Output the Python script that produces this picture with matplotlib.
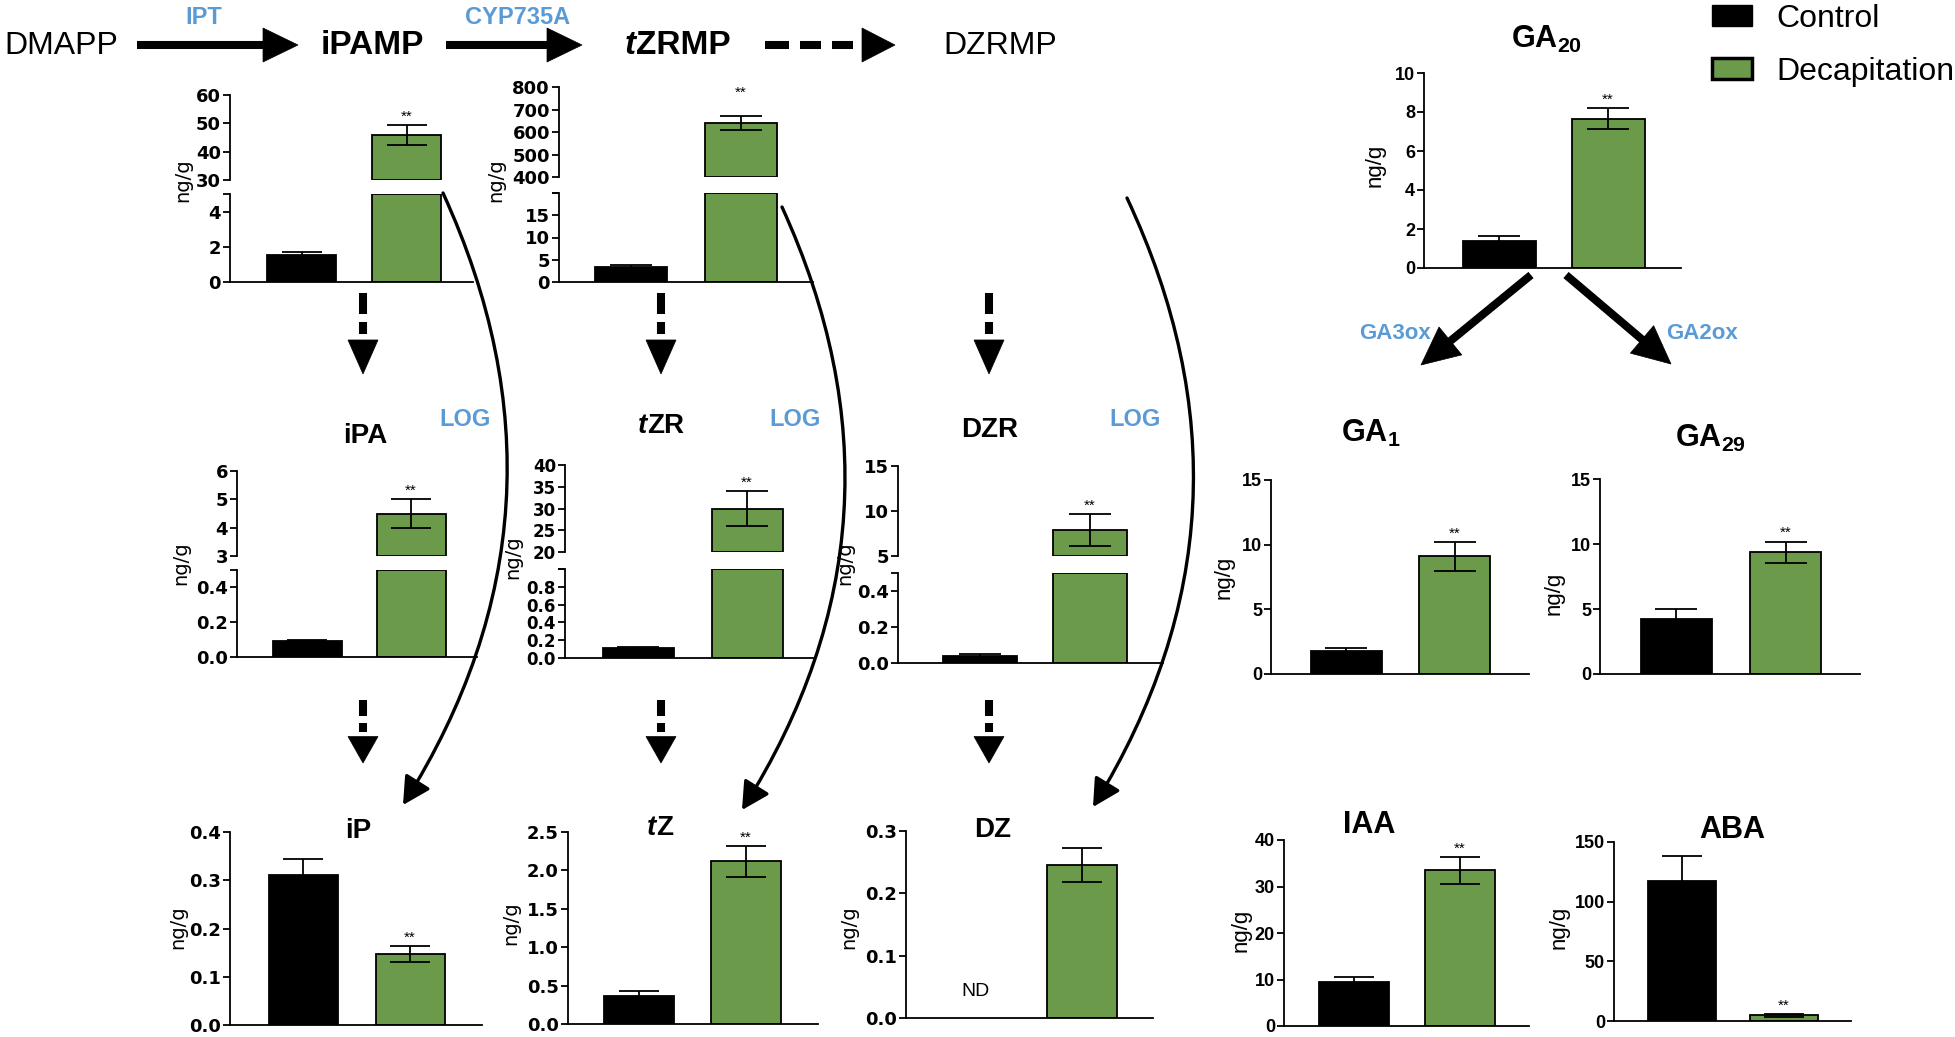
import matplotlib
matplotlib.use('Agg')
import matplotlib.pyplot as plt
from matplotlib import font_manager
from matplotlib.patches import Patch, Polygon, FancyArrowPatch

W, H = 1955, 1037
GREEN = '#6a9a4a'
BLUE = '#5b9bd5'

installed = {f.name for f in font_manager.fontManager.ttflist}
NARROW = 'Liberation Sans Narrow' if 'Liberation Sans Narrow' in installed else 'Liberation Sans'

plt.rcParams['font.family'] = ['Liberation Sans', 'DejaVu Sans']
plt.rcParams['mathtext.fontset'] = 'custom'
plt.rcParams['mathtext.rm'] = 'Liberation Sans'
plt.rcParams['mathtext.bf'] = 'Liberation Sans:bold'

# ---- data, ng/g ----
hormones = ['iPAMP', 'tZRMP', 'iPA', 'tZR', 'DZR', 'iP', 'tZ', 'DZ',
            'GA20', 'GA1', 'GA29', 'IAA', 'ABA']
control = [1.55, 3.45, 0.09, 0.11, 0.04, 0.31, 0.365, 0.0,
           1.38, 1.8, 4.25, 9.4, 117.5]
control_err = [0.16, 0.35, 0.01, 0.01, 0.01, 0.035, 0.065, 0.0,
               0.26, 0.23, 0.77, 1.1, 20.5]
decap = [46.0, 640, 4.5, 30.0, 7.9, 0.147, 2.12, 0.245,
         7.65, 9.1, 9.35, 33.5, 4.8]
decap_err = [3.5, 29, 0.52, 4.0, 1.75, 0.017, 0.2, 0.027,
             0.53, 1.1, 0.83, 2.9, 1.2]
significant = [True, True, True, True, True, True, True, False,
               True, True, True, True, True]
not_detected = ['DZ']   # control not detected

# y scales: lower range, lower ticks, upper range, upper ticks (broken axes)
scales = {
    'iPAMP': ((0, 5), [0, 2, 4], (30, 60), [30, 40, 50, 60]),
    'tZRMP': ((0, 20), [0, 5, 10, 15, 20], (400, 800), [400, 500, 600, 700, 800]),
    'iPA': ((0, 0.5), [0.0, 0.2, 0.4], (3, 6), [3, 4, 5, 6]),
    'tZR': ((0, 1.0), [0.0, 0.2, 0.4, 0.6, 0.8, 1.0], (20, 40), [20, 25, 30, 35, 40]),
    'DZR': ((0, 0.5), [0.0, 0.2, 0.4], (5, 15), [5, 10, 15]),
    'iP': ((0, 0.4), [0.0, 0.1, 0.2, 0.3, 0.4], None, None),
    'tZ': ((0, 2.5), [0.0, 0.5, 1.0, 1.5, 2.0, 2.5], None, None),
    'DZ': ((0, 0.3), [0.0, 0.1, 0.2, 0.3], None, None),
    'GA20': ((0, 10), [0, 2, 4, 6, 8, 10], None, None),
    'GA1': ((0, 15), [0, 5, 10, 15], None, None),
    'GA29': ((0, 15), [0, 5, 10, 15], None, None),
    'IAA': ((0, 40), [0, 10, 20, 30, 40], None, None),
    'ABA': ((0, 150), [0, 50, 100, 150], None, None),
}
decimal_ticks = ['iPA', 'tZR', 'DZR', 'iP', 'tZ', 'DZ']
ga_style = ['GA20', 'GA1', 'GA29', 'IAA', 'ABA']

# layout in pixels: spine x, axis end x, control centre, decap centre, bar width,
# zero y, top of lower part, bottom of upper part, top of upper part
layout = {
    'iPAMP': (230, 473, 301.5, 406.5, 69, 282, 194, 180, 95),
    'tZRMP': (559, 813, 631, 741, 72, 282, 193, 177, 87),
    'iPA': (237, 477, 307, 411, 69, 657, 570, 556, 471),
    'tZR': (565, 815, 638, 747, 71, 658, 569, 552, 465),
    'DZR': (898, 1163, 979.5, 1090, 74, 663, 573, 556, 466),
    'iP': (230, 482, 303, 410, 69, 1025, 832),
    'tZ': (568, 818, 639, 746, 70, 1024, 832),
    'DZ': (906, 1153, 976, 1082, 70, 1018, 831),
    'GA20': (1424, 1681, 1499, 1608, 73, 268, 73),
    'GA1': (1271, 1529, 1346, 1454.5, 71, 674, 480),
    'GA29': (1600, 1860, 1676, 1785.5, 71, 674, 479),
    'IAA': (1284, 1529, 1354, 1459.5, 70, 1026, 840),
    'ABA': (1614, 1851, 1682, 1784, 68, 1021, 842),
}
star_offset = {'tZRMP': 12}

fig = plt.figure(figsize=(W / 100, H / 100), dpi=100)


def px_axes(x0, x1, ytop, ybot):
    return fig.add_axes([x0 / W, 1 - ybot / H, (x1 - x0) / W, (ybot - ytop) / H])


def draw_bars(ax, h, lo, hi):
    i = hormones.index(h)
    sx, ex, c0, c1, bw = layout[h][:5]
    s = c1 - c0
    ax.set_xlim((sx - c0) / s, (ex - c0) / s)
    ax.set_ylim(lo, hi)
    vals = [control[i], decap[i]]
    errs = [control_err[i], decap_err[i]]
    for k, col in enumerate(['black', GREEN]):
        v = vals[k]
        if v <= lo or (k == 0 and h in not_detected):
            continue
        ax.bar(k, min(v, hi) - lo, bottom=lo, width=bw / s, color=col,
               edgecolor='black', linewidth=1.3, zorder=2)
        if v <= hi:
            ax.errorbar(k, v, yerr=errs[k], fmt='none', ecolor='black',
                        elinewidth=1.3, capthick=1.3, capsize=0.29 * bw * 0.72, zorder=3)
            if k == 1 and significant[i]:
                ax.annotate('**', (k, v + errs[k]), xytext=(0, star_offset.get(h, 1)),
                            textcoords='offset points', ha='center', va='bottom',
                            fontsize=11)


def style_axis(ax, h, ticks, labels, bottom=True):
    for side in ['top', 'right']:
        ax.spines[side].set_visible(False)
    ax.spines['bottom'].set_visible(bottom)
    for sp in ax.spines.values():
        sp.set_linewidth(1.3)
    ax.patch.set_alpha(0)
    ax.tick_params(axis='x', bottom=False, labelbottom=False)
    ax.tick_params(axis='y', direction='out', length=5, width=1.3, pad=1.5)
    if h in ga_style:
        ax.set_yticks(ticks, labels, fontsize=13, fontweight='bold', family=NARROW)
    else:
        size = 12 if h == 'tZR' else 13
        ax.set_yticks(ticks, labels, fontsize=size, fontweight='bold', family='DejaVu Sans')


for h in hormones:
    lay = layout[h]
    lo_rng, lo_ticks, up_rng, up_ticks = scales[h]
    fmt = '{:.1f}' if h in decimal_ticks else '{:g}'
    ax = px_axes(lay[0], lay[1], lay[6], lay[5])
    draw_bars(ax, h, *lo_rng)
    labels = [fmt.format(t) for t in lo_ticks]
    if up_rng is not None:
        style_axis(ax, h, lo_ticks + [lo_rng[1]], labels + [''])
        ax2 = px_axes(lay[0], lay[1], lay[8], lay[7])
        draw_bars(ax2, h, *up_rng)
        style_axis(ax2, h, up_ticks, ['{:g}'.format(t) for t in up_ticks], bottom=False)
    else:
        style_axis(ax, h, lo_ticks, labels)

# ---- overlay in pixel coordinates for the pathway diagram ----
ov = fig.add_axes([0, 0, 1, 1], zorder=10)
ov.set_xlim(0, W)
ov.set_ylim(H, 0)
ov.axis('off')
ov.patch.set_alpha(0)

SHAFT = 5.8  # points


def seg(x0, y0, x1, y1, lw=SHAFT):
    ov.plot([x0, x1], [y0, y1], color='black', lw=lw, solid_capstyle='butt')


def head(tx, ty, ux, uy, length, half):
    bx, by = tx - ux * length, ty - uy * length
    px, py = -uy, ux
    ov.add_patch(Polygon([(tx, ty), (bx + px * half, by + py * half),
                          (bx - px * half, by - py * half)], closed=True,
                         facecolor='black', edgecolor='black', lw=0.5))


def arrow(x0, y0, x1, y1, length=35, half=17):
    d = ((x1 - x0) ** 2 + (y1 - y0) ** 2) ** 0.5
    ux, uy = (x1 - x0) / d, (y1 - y0) / d
    seg(x0, y0, x1 - ux * (length - 2), y1 - uy * (length - 2))
    head(x1, y1, ux, uy, length, half)


def dashed_down(x, y0, tip):
    L = tip - y0
    seg(x, y0, x, y0 + 0.26 * L)
    seg(x, y0 + 0.36 * L, x, y0 + 0.51 * L)
    head(x, tip, 0, 1, 0.42 * L, 15)


# top row
ov.text(61, 54, 'DMAPP', fontsize=23, ha='center', va='baseline')
ov.text(372, 54, 'iPAMP', fontsize=24, fontweight='bold', ha='center', va='baseline')
t = ov.text(636, 54, 't', fontsize=24, fontweight='bold', style='italic', ha='right', va='baseline')
ov.annotate('ZRMP', xy=(1, 0), xycoords=t, fontsize=24, fontweight='bold', ha='left', va='bottom')
ov.text(1000, 54, 'DZRMP', fontsize=23, ha='center', va='baseline')
ov.text(204, 24, 'IPT', fontsize=17, fontweight='bold', color=BLUE, ha='center', va='baseline')
ov.text(518, 24, 'CYP735A', fontsize=17, fontweight='bold', color=BLUE, ha='center', va='baseline')
arrow(137, 45, 298, 45)
arrow(446, 45, 582, 45)
for a, b in [(765, 789), (800, 821), (832, 853)]:
    seg(a, 45, b, 45)
head(895, 45, 1, 0, 33, 17)

# vertical pathway arrows
for x in (363, 661, 989):
    dashed_down(x, 293, 374)
    dashed_down(x, 700, 763)

# curved LOG arrows
for (xa, ya), (xb, yb) in [((443, 193), (403, 805)), ((782, 207), (742, 810)),
                           ((1127, 198), (1093, 807))]:
    ov.add_patch(FancyArrowPatch((xa, ya), (xb, yb), connectionstyle='arc3,rad=-0.27',
                                 arrowstyle='-|>,head_length=0.6,head_width=0.32',
                                 mutation_scale=28, lw=2.4, color='black',
                                 shrinkA=0, shrinkB=0))
for x in (465, 795, 1135):
    ov.text(x, 426, 'LOG', fontsize=17, fontweight='bold', color=BLUE, ha='center', va='baseline')

# GA arrows
arrow(1531, 275, 1421, 365, 38, 18)
arrow(1566, 275, 1671, 364, 38, 18)
ov.text(1395, 339, 'GA3ox', fontsize=16, fontweight='bold', color=BLUE, ha='center', va='baseline')
ov.text(1702, 339, 'GA2ox', fontsize=16, fontweight='bold', color=BLUE, ha='center', va='baseline')

# panel titles
for name, x, y in [('iPA', 365, 443), ('DZR', 990, 437), ('iP', 358, 838), ('DZ', 993, 837)]:
    ov.text(x, y, name, fontsize=20, fontweight='bold', ha='center', va='baseline')
for rest, split, y in [('ZR', 647, 433), ('Z', 656, 835)]:
    t = ov.text(split, y, 't', fontsize=20, fontweight='bold', style='italic', ha='right', va='baseline')
    ov.annotate(rest, xy=(1, 0), xycoords=t, fontsize=20, fontweight='bold', ha='left', va='bottom')
for name, x, y in [(r'GA$_{\mathbf{20}}$', 1547, 48), (r'GA$_{\mathbf{1}}$', 1371, 442),
                   (r'GA$_{\mathbf{29}}$', 1710, 447), ('IAA', 1369, 833), ('ABA', 1732, 838)]:
    ov.text(x, y, name, fontsize=22, fontweight='bold', ha='center', va='baseline')

# y labels
for x, y in [(183, 180), (496, 180), (181, 563), (513, 557), (845, 563),
             (178, 927), (511, 923), (849, 927)]:
    ov.text(x, y, 'ng/g', fontsize=14, family='DejaVu Sans', rotation=90, ha='center', va='center')
for x, y in [(1375, 165), (1224, 577), (1554, 593), (1241, 930), (1559, 927)]:
    ov.text(x, y, 'ng/g', fontsize=16, rotation=90, ha='center', va='center')

ov.text(976, 992, 'ND', fontsize=14, ha='center', va='center')

# legend
fs = 23
fpx = fs * 100 / 72
handles = [Patch(facecolor='black', edgecolor='black'),
           Patch(facecolor=GREEN, edgecolor='black', linewidth=2.5)]
fig.legend(handles, ['Control', 'Decapitation'], loc='upper left',
           bbox_to_anchor=(1712 / W, 1 - 4 / H), frameon=False,
           prop={'family': NARROW, 'size': fs},
           handlelength=40 / fpx, handleheight=20 / fpx, handletextpad=24 / fpx,
           labelspacing=0.72, borderpad=0, borderaxespad=0)

fig.savefig('out.png', dpi=100)
